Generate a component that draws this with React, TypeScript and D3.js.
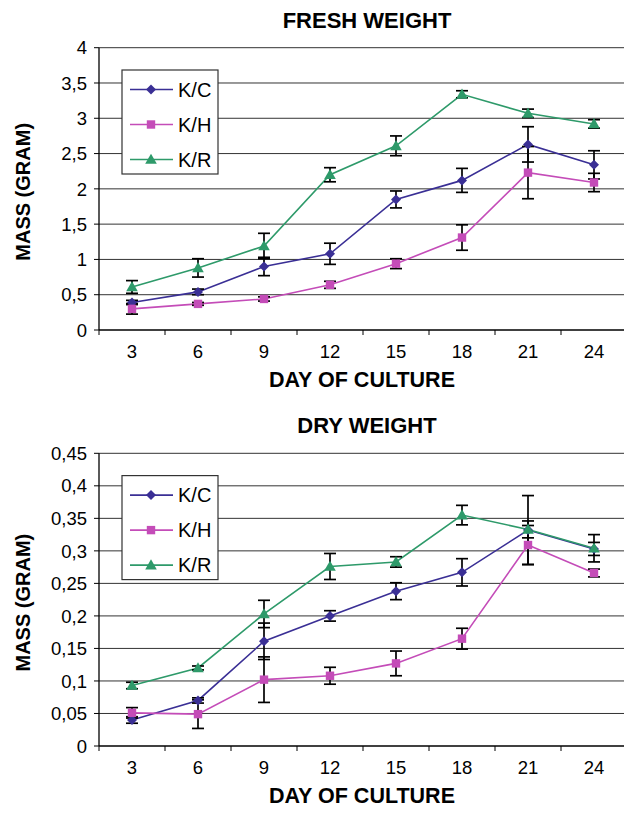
import React from 'react';
import * as d3 from 'd3';

// days of culture (x categories)
const days = ['3', '6', '9', '12', '15', '18', '21', '24'];
const seriesNames = ['K/C', 'K/H', 'K/R'];
const colors = ['#3a2f95', '#c44cb8', '#2e9a6a'];

// fresh weight (gram)
const freshKC = [0.39, 0.54, 0.9, 1.08, 1.85, 2.12, 2.63, 2.34];
const freshKCErr = [0.03, 0.04, 0.13, 0.15, 0.12, 0.17, 0.25, 0.2];
const freshKH = [0.3, 0.37, 0.44, 0.64, 0.94, 1.31, 2.23, 2.09];
const freshKHErr = [0.075, 0.02, 0.03, 0.05, 0.07, 0.18, 0.37, 0.13];
const freshKR = [0.61, 0.88, 1.19, 2.2, 2.61, 3.34, 3.07, 2.92];
const freshKRErr = [0.09, 0.13, 0.18, 0.1, 0.14, 0.05, 0.06, 0.06];

// dry weight (gram)
const dryKC = [0.04, 0.07, 0.161, 0.2, 0.238, 0.267, 0.332, 0.303];
const dryKCErr = [0.005, 0.004, 0.028, 0.008, 0.013, 0.021, 0.053, 0.01];
const dryKH = [0.051, 0.049, 0.102, 0.108, 0.127, 0.165, 0.309, 0.266];
const dryKHErr = [0.008, 0.022, 0.035, 0.013, 0.019, 0.016, 0.03, 0.006];
const dryKR = [0.093, 0.12, 0.203, 0.276, 0.283, 0.355, 0.333, 0.304];
const dryKRErr = [0.005, 0.003, 0.021, 0.02, 0.008, 0.015, 0.013, 0.021];

const freshTicks = [0, 0.5, 1, 1.5, 2, 2.5, 3, 3.5, 4];
const dryTicks = [0, 0.05, 0.1, 0.15, 0.2, 0.25, 0.3, 0.35, 0.4, 0.45];

const font = 'Liberation Sans, Arial, sans-serif';
const fmt = (v: number) => String(+v.toFixed(2)).replace('.', ',');

const marker = (i: number, x: number, y: number, color: string) => {
  if (i === 0) {
    const r = 5;
    return <path d={`M${x},${y - r}L${x + r},${y}L${x},${y + r}L${x - r},${y}Z`} fill={color} />;
  }
  if (i === 1) return <rect x={x - 4.2} y={y - 4.2} width={8.4} height={8.4} fill={color} />;
  const s = 5.8;
  return <path d={`M${x},${y - s}L${x + s},${y + s * 0.75}L${x - s},${y + s * 0.75}Z`} fill={color} />;
};

type PanelProps = {
  title: string;
  top: number;
  bottom: number;
  ticks: number[];
  values: number[][];
  errors: number[][];
};

const left = 99;
const right = 627;

const Panel = ({ title, top, bottom, ticks, values, errors }: PanelProps) => {
  const x = d3.scaleBand().domain(days).range([left, right]);
  const y = d3.scaleLinear().domain([0, ticks[ticks.length - 1]]).range([bottom, top]);
  const cx = (d: string) => (x(d) as number) + x.bandwidth() / 2;
  const line = d3.line<number>().x((_, i) => cx(days[i])).y(v => y(v));
  const lgTop = top + 22.3;

  return (
    <g>
      <text x={367} y={top - 20} textAnchor="middle" fontFamily={font} fontWeight="bold" fontSize={22}>{title}</text>
      {ticks.slice(1).map(t => (
        <line key={t} x1={left} x2={right} y1={y(t)} y2={y(t)} stroke="#333" strokeWidth={1} />
      ))}
      {ticks.map(t => (
        <g key={'l' + t}>
          <line x1={left - 5} x2={left} y1={y(t)} y2={y(t)} stroke="#000" />
          <text x={87} y={y(t)} dy="0.36em" textAnchor="end" fontFamily={font} fontSize={18.5}>{fmt(t)}</text>
        </g>
      ))}
      <line x1={left} x2={left} y1={top} y2={bottom} stroke="#000" strokeWidth={1.3} />
      <line x1={left} x2={right} y1={bottom} y2={bottom} stroke="#000" strokeWidth={1.3} />
      {days.map(d => (
        <g key={'x' + d}>
          <line x1={x(d)} x2={x(d)} y1={bottom} y2={bottom + 5} stroke="#000" />
          <text x={cx(d)} y={bottom + 28} textAnchor="middle" fontFamily={font} fontSize={18.5}>{d}</text>
        </g>
      ))}
      <text x={362} y={bottom + 57} textAnchor="middle" fontFamily={font} fontWeight="bold" fontSize={21.5}>DAY OF CULTURE</text>
      <text transform={`translate(30,${(top + bottom) / 2 + 3}) rotate(-90)`} textAnchor="middle" fontFamily={font} fontWeight="bold" fontSize={20}>MASS (GRAM)</text>

      {values.map((vals, si) => (
        <path key={'p' + si} d={line(vals) as string} fill="none" stroke={colors[si]} strokeWidth={1.6} />
      ))}
      {values.map((vals, si) =>
        vals.map((v, i) => {
          const e = errors[si][i];
          const px = cx(days[i]);
          return (
            <g key={'e' + si + i} stroke="#000" strokeWidth={1.7}>
              <line x1={px} x2={px} y1={y(v + e)} y2={y(v - e)} />
              <line x1={px - 6} x2={px + 6} y1={y(v + e)} y2={y(v + e)} />
              <line x1={px - 6} x2={px + 6} y1={y(v - e)} y2={y(v - e)} />
            </g>
          );
        })
      )}
      {values.map((vals, si) =>
        vals.map((v, i) => <g key={'m' + si + i}>{marker(si, cx(days[i]), y(v), colors[si])}</g>)
      )}

      <rect x={122} y={lgTop} width={96} height={104} fill="#fff" stroke="#333" strokeWidth={1.2} />
      {seriesNames.map((n, si) => {
        const ly = lgTop + 19.5 + si * 35;
        return (
          <g key={n}>
            <line x1={130} x2={173} y1={ly} y2={ly} stroke={colors[si]} strokeWidth={1.6} />
            {marker(si, 151, ly, colors[si])}
            <text x={178} y={ly} dy="0.36em" fontFamily={font} fontSize={20}>{n}</text>
          </g>
        );
      })}
    </g>
  );
};

export default function App() {
  return (
    <svg width={624} height={813} style={{ position: 'absolute', left: 0, top: 0, background: '#fff' }}>
      <rect width={624} height={813} fill="#fff" />
      <Panel
        title="FRESH WEIGHT"
        top={47.7}
        bottom={330}
        ticks={freshTicks}
        values={[freshKC, freshKH, freshKR]}
        errors={[freshKCErr, freshKHErr, freshKRErr]}
      />
      <Panel
        title="DRY WEIGHT"
        top={453.3}
        bottom={746}
        ticks={dryTicks}
        values={[dryKC, dryKH, dryKR]}
        errors={[dryKCErr, dryKHErr, dryKRErr]}
      />
    </svg>
  );
}
